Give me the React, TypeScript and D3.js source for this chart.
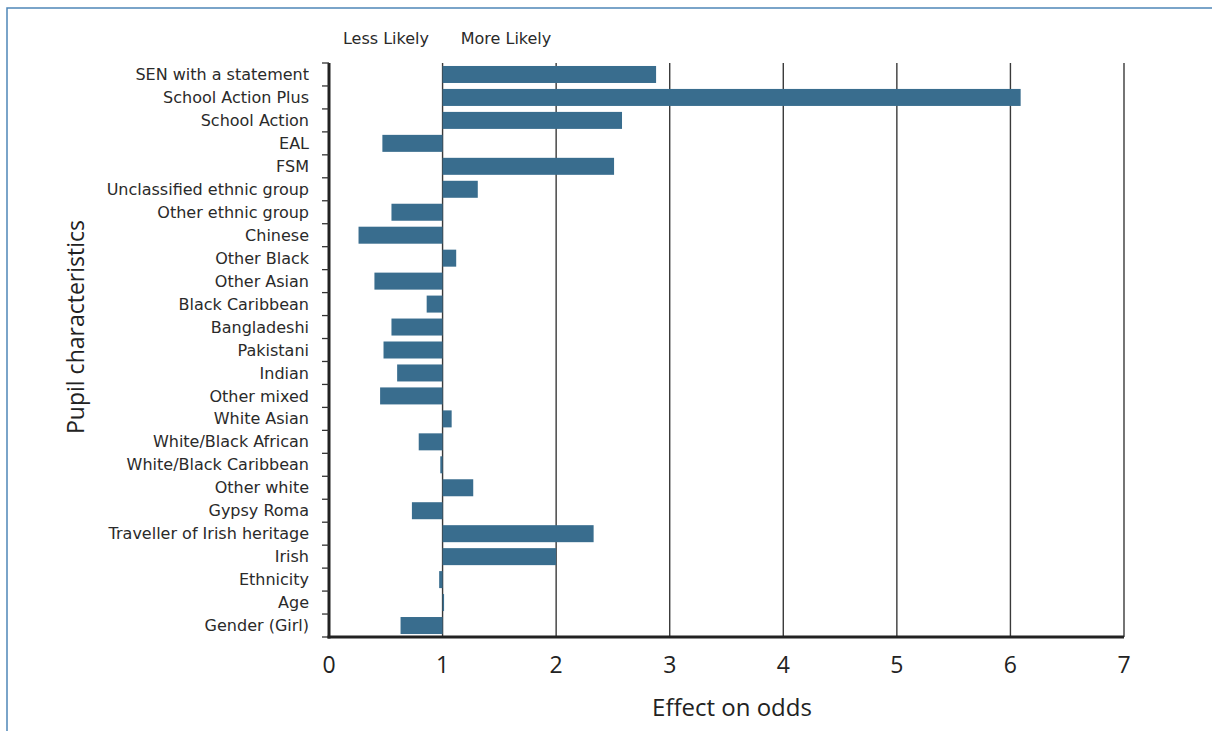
import React from "react";
import * as d3 from "d3";

const categories: string[] = [
  "SEN with a statement",
  "School Action Plus",
  "School Action",
  "EAL",
  "FSM",
  "Unclassified ethnic group",
  "Other ethnic group",
  "Chinese",
  "Other Black",
  "Other Asian",
  "Black Caribbean",
  "Bangladeshi",
  "Pakistani",
  "Indian",
  "Other mixed",
  "White Asian",
  "White/Black African",
  "White/Black Caribbean",
  "Other white",
  "Gypsy Roma",
  "Traveller of Irish heritage",
  "Irish",
  "Ethnicity",
  "Age",
  "Gender (Girl)",
];

const effects: number[] = [
  2.88, 6.09, 2.58, 0.47, 2.51, 1.31, 0.55, 0.26, 1.12, 0.4, 0.86, 0.55, 0.48,
  0.6, 0.45, 1.08, 0.79, 0.98, 1.27, 0.73, 2.33, 2.0, 0.97, 1.01, 0.63,
];

const xTicks: number[] = [0, 1, 2, 3, 4, 5, 6, 7];

const W = 1212;
const H = 731;
const left = 329;
const right = 1124;
const top = 63;
const bottom = 637;

export default function App() {
  const x = d3.scaleLinear().domain([0, 7]).range([left, right]);
  const y = d3.scaleBand<string>().domain(categories).range([top, bottom]).padding(0);
  const bandH = y.bandwidth();
  const barH = 17;
  const labelFont = "'DejaVu Sans', Verdana, sans-serif";
  const numFont = "'Open Sans', sans-serif";

  return (
    <svg
      width={W}
      height={H}
      style={{ position: "absolute", left: 0, top: 0, background: "#fff" }}
    >
      {/* frame */}
      <rect x={7} y={8} width={W + 20} height={H + 20} fill="none" stroke="#4f86b8" strokeWidth={1.5} />

      {/* grid lines */}
      {xTicks.slice(1).map((t) => (
        <line key={t} x1={x(t)} x2={x(t)} y1={top} y2={bottom} stroke="#3a3a3a" strokeWidth={1.4} />
      ))}

      {/* bars */}
      {categories.map((c, i) => {
        const v = effects[i];
        const x0 = x(Math.min(v, 1));
        const x1 = x(Math.max(v, 1));
        const cy = (y(c) as number) + bandH / 2;
        return (
          <rect
            key={c}
            x={x0}
            y={cy - barH / 2}
            width={Math.max(x1 - x0, 1.5)}
            height={barH}
            fill="#396d8e"
          />
        );
      })}

      {/* left axis */}
      <line x1={left} x2={left} y1={top} y2={bottom + 1.5} stroke="#222" strokeWidth={3} />
      {d3.range(categories.length + 1).map((i) => {
        const yy = top + i * bandH;
        return <line key={i} x1={left - 7} x2={left} y1={yy} y2={yy} stroke="#333" strokeWidth={1.3} />;
      })}
      {/* bottom axis */}
      <line x1={left - 1.5} x2={right} y1={bottom} y2={bottom} stroke="#222" strokeWidth={3} />

      {/* category labels */}
      {categories.map((c) => (
        <text
          key={c}
          x={309}
          y={(y(c) as number) + bandH / 2}
          dy="0.35em"
          textAnchor="end"
          fontFamily={labelFont}
          fontSize={16}
          fill="#2a2a2a"
        >
          {c}
        </text>
      ))}

      {/* x tick labels */}
      {xTicks.map((t) => (
        <text key={t} x={x(t)} y={673} textAnchor="middle" fontFamily={numFont} fontSize={23} fill="#222">
          {t}
        </text>
      ))}

      <text x={732} y={716} textAnchor="middle" fontFamily={numFont} fontSize={24} fill="#222">
        Effect on odds
      </text>
      <text
        transform={`translate(84,327) rotate(-90)`}
        textAnchor="middle"
        fontFamily={numFont}
        fontSize={23}
        fill="#222"
      >
        Pupil characteristics
      </text>

      <text x={386} y={44} textAnchor="middle" fontFamily={labelFont} fontSize={16} fill="#2a2a2a">
        Less Likely
      </text>
      <text x={506} y={44} textAnchor="middle" fontFamily={labelFont} fontSize={16} fill="#2a2a2a">
        More Likely
      </text>
    </svg>
  );
}
